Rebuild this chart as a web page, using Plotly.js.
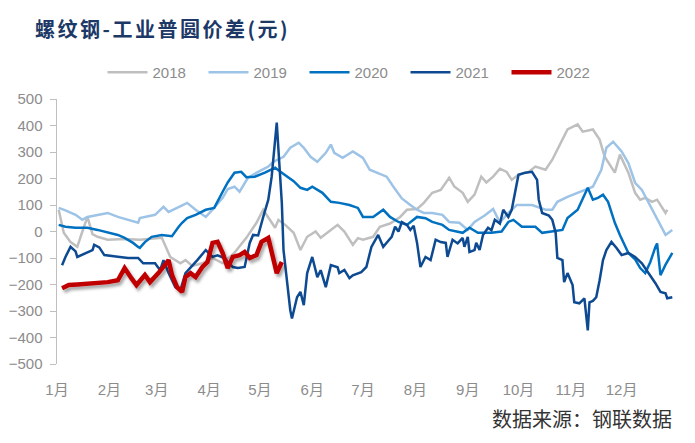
<!DOCTYPE html>
<html>
<head>
<meta charset="utf-8">
<script src="https://cdn.plot.ly/plotly-3.0.1.min.js"></script>
<style>
  html, body { margin: 0; padding: 0; background: #fff; }
  #chart { width: 695px; height: 443px; }
</style>
</head>
<body>
<div id="chart"></div>
<script>
// day of year -> spread, 元
const monthStarts = [0, 31, 59, 90, 120, 151, 181, 212, 243, 273, 304, 334];
const monthLabels = ['1月','2月','3月','4月','5月','6月','7月','8月','9月','10月','11月','12月'];

const days2018 = [1,4,8,12,15,18,21,24,30,40,49,58,62,67,73,76,80,86,92,98,105,112,118,122,126,129,131,135,140,144,148,153,156,166,170,175,178,181,187,191,197,203,207,213,217,222,227,232,235,240,243,247,251,254,258,262,266,269,273,279,283,289,293,299,302,308,311,317,321,324,327,330,333,335,338,342,345,348,352,355,358,360,361];
const vals2018 = [82,-5,-40,-58,0,55,-10,-20,-31,-28,-31,-25,-24,-96,-120,-108,-130,-120,-100,-120,-80,-24,33,82,44,14,44,25,-5,-70,-20,0,-24,25,0,-50,-25,-31,-20,18,30,55,82,85,108,146,157,203,170,146,112,139,207,185,207,237,225,195,214,225,245,233,271,347,385,404,377,385,347,282,252,222,290,263,222,146,120,127,112,120,89,70,82];

const days2019 = [1,5,11,15,18,24,30,36,42,48,49,58,63,66,71,77,82,88,92,98,101,105,108,113,119,125,128,134,138,143,146,150,154,159,162,164,169,175,178,181,185,189,195,199,204,209,213,217,222,228,232,238,243,247,253,258,262,267,272,281,289,293,296,302,308,312,317,322,325,329,334,338,342,346,350,354,358,360,364];
const vals2019 = [89,80,63,44,55,63,70,55,44,33,51,63,93,74,89,108,82,55,82,127,160,169,150,203,225,245,263,282,316,335,316,282,263,297,328,297,278,302,290,278,233,222,207,169,125,100,82,70,70,63,36,33,6,36,60,85,34,70,100,100,82,82,112,131,146,157,169,233,316,339,302,258,184,157,108,55,6,-13,6];

const days2020 = [1,5,11,18,24,31,36,40,45,48,49,52,56,62,68,72,74,77,82,88,93,98,101,105,109,112,117,123,129,133,137,140,144,148,151,157,162,167,173,178,181,187,193,197,202,207,213,218,222,228,232,240,244,249,257,263,267,270,275,283,287,293,299,302,308,314,317,320,323,326,330,333,335,338,342,345,348,351,354,355,357,360,364];
const vals2020 = [25,18,14,14,6,-5,-13,-24,-43,-58,-62,-40,-20,-13,-18,18,33,51,63,82,89,150,185,222,225,205,207,222,241,222,203,190,165,157,169,146,112,108,100,89,55,55,82,55,36,25,55,50,36,25,6,-5,14,-5,-5,0,36,44,18,18,-5,0,6,51,82,165,120,127,139,112,33,-13,-43,-81,-105,-138,-157,-115,-58,-45,-165,-125,-81];

const days2021 = [3,5,8,11,12,17,21,22,25,28,36,42,48,51,58,61,63,66,70,73,76,80,83,88,92,95,99,104,107,111,114,116,119,122,125,127,129,130,131,133,134,136,138,139,141,142,144,146,148,151,154,156,159,162,166,167,170,173,175,180,183,186,190,193,196,198,200,202,204,207,209,211,213,215,218,221,224,227,230,231,234,237,240,241,243,244,247,248,250,252,255,257,259,262,264,267,269,271,273,277,281,284,285,287,291,293,295,296,299,300,302,305,306,309,312,314,315,317,319,321,323,325,328,331,334,338,342,346,350,354,357,360,361,364];
const vals2021 = [-127,-96,-58,-75,-96,-81,-70,-50,-60,-89,-96,-100,-100,-120,-120,-146,-108,-157,-210,-221,-157,-130,-108,-70,-96,-90,-100,-134,-138,-134,-43,-13,-15,55,120,207,335,411,309,108,-70,-195,-297,-328,-271,-248,-228,-278,-157,-96,-172,-146,-210,-127,-135,-157,-145,-176,-165,-153,-134,-58,-13,-58,-35,-20,18,0,36,25,6,22,-43,-134,-96,-108,-31,-40,-43,-96,-31,-45,-24,-58,-20,-77,-70,-43,-70,-13,14,5,44,30,82,55,82,146,214,222,225,195,120,70,60,44,-5,-100,-108,-191,-157,-202,-267,-271,-252,-373,-267,-262,-248,-184,-108,-70,-39,-62,-89,-81,-96,-120,-157,-195,-228,-233,-252,-248];

const days2022 = [3,7,12,18,24,30,36,40,44,47,52,55,60,64,66,68,71,74,76,79,82,86,89,92,95,98,101,104,108,111,114,118,121,125,128,130,133];
const vals2022 = [-214,-202,-200,-197,-197,-191,-184,-138,-176,-202,-164,-191,-157,-127,-108,-164,-210,-228,-172,-157,-172,-134,-115,-43,-39,-81,-138,-96,-89,-77,-100,-89,-39,-24,-96,-157,-115];

const series = [
    { name: '2018', x: days2018, y: vals2018, color: '#bfbfbf', width: 2.5 },
    { name: '2019', x: days2019, y: vals2019, color: '#9dc3e6', width: 2.5 },
    { name: '2020', x: days2020, y: vals2020, color: '#0070c0', width: 2.5 },
    { name: '2021', x: days2021, y: vals2021, color: '#0d4a92', width: 2.5 },
    { name: '2022', x: days2022, y: vals2022, color: '#c00000', width: 4.5 }
];

const traces = series.map(s => ({
    x: s.x, y: s.y, name: s.name,
    type: 'scatter', mode: 'lines',
    line: { color: s.color, width: s.width }
}));

const grey = '#bfbfbf';
const labelGrey = '#8c8c8c';

const layout = {
    width: 695, height: 443,
    margin: { l: 57, r: 21, t: 99, b: 79 },
    paper_bgcolor: '#fff', plot_bgcolor: '#fff',
    font: { family: 'Liberation Sans, Arial, Noto Sans CJK SC', size: 15, color: labelGrey },
    title: {
        text: '螺纹钢-工业普圆价差(元)',
        font: { family: 'Noto Sans CJK SC', size: 20, color: '#1c3866', weight: 'bold' },
        xref: 'container', x: 35 / 695, xanchor: 'left',
        yref: 'container', y: 1 - 30 / 443, yanchor: 'middle'
    },
    showlegend: true,
    legend: {
        orientation: 'h', x: 0.483, xanchor: 'center', y: 1.10, yanchor: 'middle',
        font: { size: 15, color: labelGrey }, itemwidth: 40, traceorder: 'normal',
        entrywidth: 46
    },
    xaxis: {
        range: [0, 365], tickvals: monthStarts, ticktext: monthLabels,
        showline: false, ticks: '', showgrid: false, zeroline: false,
        ticklabelstandoff: 15, tickfont: { size: 15, color: labelGrey }
    },
    // zero line with month ticks
    xaxis2: {
        overlaying: 'x', anchor: 'free', position: 0.5,
        range: [0, 365], tickvals: monthStarts.slice(1).concat([365]),
        ticks: 'outside', ticklen: 5, tickcolor: grey, tickwidth: 1.5,
        showline: true, linecolor: grey, linewidth: 2,
        showticklabels: false, showgrid: false, zeroline: false
    },
    yaxis: {
        range: [-500, 500], dtick: 100,
        showline: true, linecolor: grey, linewidth: 1.5,
        ticks: 'outside', ticklen: 6, tickcolor: grey,
        showgrid: false, zeroline: false,
        ticklabelstandoff: 4, tickfont: { size: 15, color: labelGrey }
    },
    annotations: [{
        text: '数据来源：钢联数据', showarrow: false,
        xref: 'paper', x: 1.0, xanchor: 'right',
        yref: 'paper', y: -0.205, yanchor: 'middle',
        font: { family: 'Noto Sans CJK SC', size: 20, color: '#333' }
    }]
};

Plotly.newPlot('chart', traces, layout, { displayModeBar: false, staticPlot: true }).then(gd => {
    // wider spacing in the title, closer to the source's look
    const t = gd.querySelector('.gtitle');
    if (t) t.style.letterSpacing = '2.5px';

    // soft drop shadow under the 2022 line, like the source chart
    const svg = gd.querySelector('.main-svg');
    const ns = 'http://www.w3.org/2000/svg';
    const defs = svg.querySelector('defs');
    const filter = document.createElementNS(ns, 'filter');
    filter.setAttribute('id', 'redShadow');
    filter.setAttribute('x', '-10%'); filter.setAttribute('y', '-20%');
    filter.setAttribute('width', '130%'); filter.setAttribute('height', '150%');
    const ds = document.createElementNS(ns, 'feDropShadow');
    ds.setAttribute('dx', '2'); ds.setAttribute('dy', '3');
    ds.setAttribute('stdDeviation', '1.5');
    ds.setAttribute('flood-color', '#000'); ds.setAttribute('flood-opacity', '0.35');
    filter.appendChild(ds);
    defs.appendChild(filter);
    const lines = gd.querySelectorAll('.scatterlayer .trace .js-line');
    if (lines[4]) lines[4].setAttribute('filter', 'url(#redShadow)');
});
</script>
</body>
</html>
